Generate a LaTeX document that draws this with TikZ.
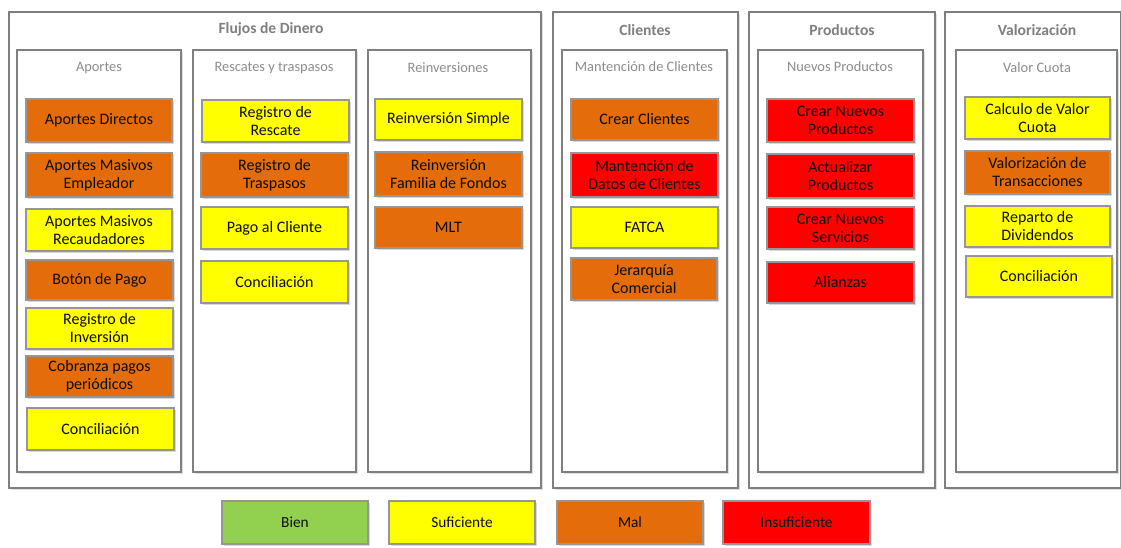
\documentclass[tikz,border=0pt]{standalone}
\usepackage{fontspec}
\setmainfont{Carlito}
\usetikzlibrary{shadows}

\definecolor{okgreen}{HTML}{92D050}
\definecolor{fairyellow}{HTML}{FFFF00}
\definecolor{poororange}{HTML}{E46C0A}
\definecolor{badred}{HTML}{FF0000}
\definecolor{framegrey}{HTML}{7F7F7F}
\definecolor{cellgrey}{HTML}{969696}
\definecolor{headgrey}{HTML}{7F7F7F}
\definecolor{subgrey}{HTML}{8C8C8C}
\definecolor{inktext}{HTML}{0D0D0D}

\tikzset{
  panel/.style={draw=framegrey, line width=1.6pt, fill=white,
    drop shadow={shadow xshift=1.2pt, shadow yshift=-1.2pt, opacity=0.25}},
  cellbox/.style={draw=cellgrey, line width=0.9pt, inner sep=0pt, align=center,
    text=inktext, font=\fontsize{12pt}{13.5pt}\selectfont,
    drop shadow={shadow xshift=1.2pt, shadow yshift=-1.2pt, opacity=0.3}},
  legendbox/.style={cellbox, font=\fontsize{11.5pt}{13pt}\selectfont},
  heading/.style={text=headgrey, font=\bfseries\fontsize{11.7pt}{13pt}\selectfont},
  subheading/.style={text=subgrey, font=\fontsize{10.8pt}{12pt}\selectfont},
}

% box from corner (x1,y1) to (x2,y2), in pixel units with y growing downwards
\newcommand\boxat[7]{%
  \node[#6, minimum width={(#4-#2)*0.75pt}, minimum height={(#5-#3)*0.75pt}]
    (#1) at ({(#2+#4)/2},{(#3+#5)/2}) {#7};}

\begin{document}
\begin{tikzpicture}[x=0.75pt, y=-0.75pt]
\useasboundingbox (0,0) rectangle (1121,548);

% ---- outer groups
\boxat{flujos}{9}{12}{541}{488}{panel}{}
\boxat{clientes}{553}{12}{738}{488}{panel}{}
\boxat{productos}{749}{12}{935}{488}{panel}{}
\boxat{valorizacion}{945}{12}{1121}{488}{panel}{}

\node[heading] (hflujos) at (271,29) {Flujos de Dinero};
\node[heading] (hclientes) at (645,30) {Clientes};
\node[heading] (hproductos) at (842,30) {Productos};
\node[heading] (hvalor) at (1037,30) {Valorización};

% ---- inner groups
\boxat{aportes}{17}{50}{181}{472}{panel}{}
\boxat{rescates}{193}{50}{356}{472}{panel}{}
\boxat{reinv}{368}{50}{531}{472}{panel}{}
\boxat{mantencion}{562}{50}{727}{472}{panel}{}
\boxat{nuevos}{758}{50}{923}{472}{panel}{}
\boxat{cuota}{956}{50}{1117}{472}{panel}{}

\node[subheading] (saportes) at (99,68) {Aportes};
\node[subheading] (srescates) at (274,68) {Rescates y traspasos};
\node[subheading] (sreinv) at (448,68) {Reinversiones};
\node[subheading] (smant) at (644,67) {Mantención de Clientes};
\node[subheading] (snuevos) at (840,67) {Nuevos Productos};
\node[subheading] (scuota) at (1037,68) {Valor Cuota};

% ---- Aportes
\boxat{a1}{26}{99}{172}{142}{cellbox,fill=poororange}{Aportes Directos}
\boxat{a2}{26}{153}{172}{197}{cellbox,fill=poororange}{Aportes Masivos\\Empleador}
\boxat{a3}{26}{209}{172}{251}{cellbox,fill=fairyellow}{Aportes Masivos\\Recaudadores}
\boxat{a4}{26}{260}{173}{300}{cellbox,fill=poororange}{Botón de Pago}
\boxat{a5}{26}{308}{173}{349}{cellbox,fill=fairyellow}{Registro de\\Inversión}
\boxat{a6}{26}{356}{173}{397}{cellbox,fill=poororange}{Cobranza pagos\\periódicos}
\boxat{a7}{27}{408}{174}{450}{cellbox,fill=fairyellow}{Conciliación}

% ---- Rescates y traspasos
\boxat{r1}{202}{100}{349}{142}{cellbox,fill=fairyellow}{Registro de\\Rescate}
\boxat{r2}{201}{153}{348}{197}{cellbox,fill=poororange}{Registro de\\Traspasos}
\boxat{r3}{201}{207}{348}{249}{cellbox,fill=fairyellow}{Pago al Cliente}
\boxat{r4}{201}{261}{348}{303}{cellbox,fill=fairyellow}{Conciliación}

% ---- Reinversiones
\boxat{i1}{375}{99}{522}{140}{cellbox,fill=fairyellow}{Reinversión Simple}
\boxat{i2}{375}{152}{522}{196}{cellbox,fill=poororange}{Reinversión\\Familia de Fondos}
\boxat{i3}{375}{207}{522}{248}{cellbox,fill=poororange}{MLT}

% ---- Mantención de Clientes
\boxat{c1}{571}{99}{718}{140}{cellbox,fill=poororange}{Crear Clientes}
\boxat{c2}{571}{153}{718}{197}{cellbox,fill=badred}{Mantención de\\Datos de Clientes}
\boxat{c3}{571}{207}{718}{248}{cellbox,fill=fairyellow}{FATCA}
\boxat{c4}{571}{258}{717}{300}{cellbox,fill=poororange}{Jerarquía\\Comercial}

% ---- Nuevos Productos
\boxat{p1}{767}{99}{914}{142}{cellbox,fill=badred}{Crear Nuevos\\Productos}
\boxat{p2}{767}{154}{914}{198}{cellbox,fill=badred}{Actualizar\\Productos}
\boxat{p3}{767}{207}{914}{249}{cellbox,fill=badred}{Crear Nuevos\\Servicios}
\boxat{p4}{767}{262}{914}{303}{cellbox,fill=badred}{Alianzas}

% ---- Valor Cuota
\boxat{v1}{965}{97}{1110}{139}{cellbox,fill=fairyellow}{Calculo de Valor\\Cuota}
\boxat{v2}{965}{151}{1110}{194}{cellbox,fill=poororange}{Valorización de\\Transacciones}
\boxat{v3}{965}{206}{1110}{247}{cellbox,fill=fairyellow}{Reparto de\\Dividendos}
\boxat{v4}{966}{256}{1112}{297}{cellbox,fill=fairyellow}{Conciliación}

% ---- legend
\boxat{lbien}{222}{501}{368}{544}{legendbox,fill=okgreen}{Bien}
\boxat{lsuf}{389}{501}{535}{544}{legendbox,fill=fairyellow}{Suficiente}
\boxat{lmal}{557}{501}{703}{544}{legendbox,fill=poororange}{Mal}
\boxat{linsuf}{723}{501}{870}{544}{legendbox,fill=badred}{Insuficiente}
\end{tikzpicture}
\end{document}
